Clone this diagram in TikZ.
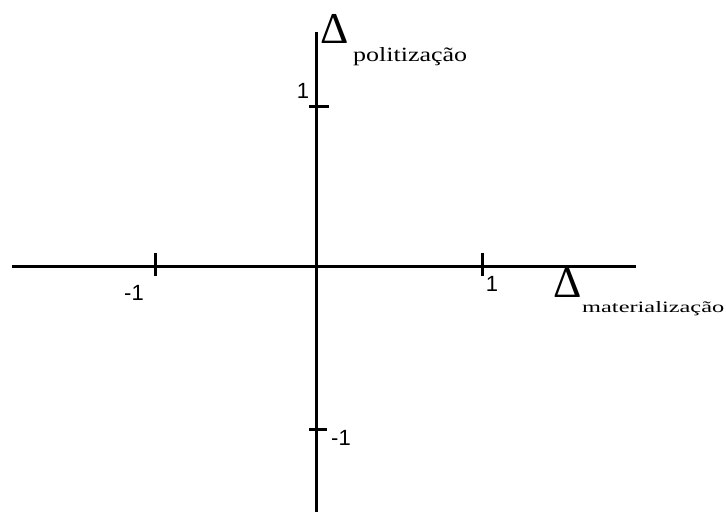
\documentclass[tikz,border=0pt]{standalone}
\usepackage{fontspec}
\usepackage{graphicx}
\setmainfont{Liberation Serif}
\newfontfamily\numfont{Liberation Sans}
\begin{document}
\begin{tikzpicture}[x=1pt,y=-1pt,
  axis/.style={line width=3pt},
  tickmark/.style={line width=3pt},
  num/.style={font=\numfont\fontsize{22}{22}\selectfont, inner sep=0pt},
  deltasym/.style={font=\fontsize{44}{44}\selectfont, inner sep=0pt, anchor=base west},
  sublabel/.style={inner sep=0pt, anchor=base west}]
\useasboundingbox (0,0) rectangle (726,512);
% axes
\coordinate (xl) at (12,266);
\coordinate (xr) at (636,266);
\coordinate (yt) at (316,32);
\coordinate (yb) at (316,512);
\draw[axis] (xl) -- (xr);
\draw[axis] (yt) -- (yb);
% ticks
\coordinate (tx1a) at (155,253); \coordinate (tx1b) at (155,276);
\coordinate (tx2a) at (482,253); \coordinate (tx2b) at (482,276);
\coordinate (ty1a) at (309,106); \coordinate (ty1b) at (329,106);
\coordinate (ty2a) at (309,429); \coordinate (ty2b) at (327,429);
\draw[tickmark] (tx1a) -- (tx1b);
\draw[tickmark] (tx2a) -- (tx2b);
\draw[tickmark] (ty1a) -- (ty1b);
\draw[tickmark] (ty2a) -- (ty2b);
% tick labels
\node[num] (lxm) at (134,293) {-1};
\node[num] (lxp) at (492,284) {1};
\node[num] (lyp) at (303,91) {1};
\node[num] (lym) at (341,438) {-1};
% axis labels
\node[deltasym] (dp) at (320,43) {Δ};
\node[sublabel] (sp) at (353,61) {\resizebox{114pt}{14pt}{politização}};
\node[deltasym] (dm) at (553,297) {Δ};
\node[sublabel] (sm) at (582,312) {\resizebox{142pt}{11pt}{materialização}};
\end{tikzpicture}
\end{document}
